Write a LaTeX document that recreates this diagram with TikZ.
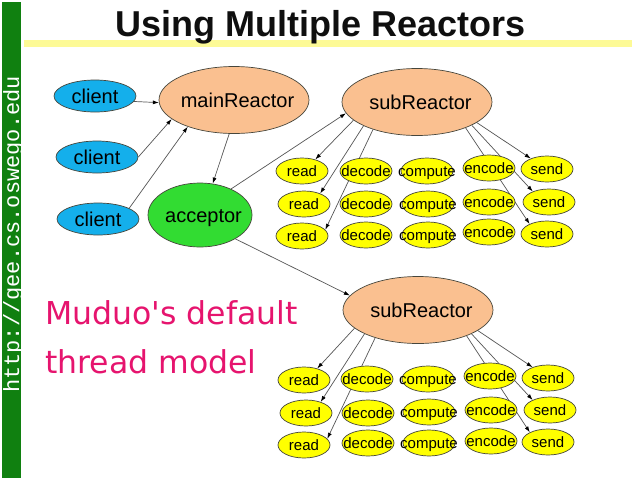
\documentclass[tikz,border=0pt]{standalone}
\usepackage{fontspec}
\setmainfont{Liberation Sans}
\newfontfamily\magfont{DejaVu Sans}[Ligatures=TeXOff]
\newfontfamily\urlfont{Liberation Mono}
\usetikzlibrary{shapes.geometric,arrows.meta}
\pgfdeclarelayer{bg}
\pgfdeclarelayer{paper}
\pgfsetlayers{paper,bg,main}
\definecolor{barGreen}{RGB}{16,128,16}
\definecolor{bandYellow}{RGB}{253,250,150}
\definecolor{clientBlue}{RGB}{20,175,235}
\definecolor{peach}{RGB}{250,192,144}
\definecolor{accGreen}{RGB}{50,220,50}
\definecolor{nodeYellow}{RGB}{255,255,0}
\definecolor{edgeGray}{RGB}{70,70,60}
\definecolor{lineGray}{RGB}{85,85,85}
\definecolor{magText}{RGB}{230,20,110}
\newcommand{\mb}[1]{\makebox[0pt]{#1}}
\newcommand{\mbs}[1]{\makebox[0pt]{\kern7pt #1}}
\tikzset{
  basenode/.style={ellipse, draw=edgeGray, line width=0.7pt, inner sep=0pt, text=black},
  clnode/.style={basenode, fill=clientBlue, minimum width=82pt, minimum height=32pt,
    font=\fontsize{20}{24}\selectfont, text height=14.3pt, text depth=0pt},
  bignode/.style={basenode, fill=peach, minimum width=150pt, minimum height=67pt,
    font=\fontsize{20}{24}\selectfont, text height=14.3pt, text depth=0pt},
  accnode/.style={basenode, fill=accGreen, minimum width=104pt, minimum height=64pt,
    font=\fontsize{20}{24}\selectfont, text height=14.3pt, text depth=0pt},
  smnode/.style={basenode, fill=nodeYellow, minimum width=52pt, minimum height=26pt,
    font=\fontsize{15}{18}\selectfont, text height=10.7pt, text depth=0pt},
  arr/.style={draw=lineGray, line width=0.7pt, -{Latex[length=6pt,width=4pt,color=black]}},
  plain/.style={inner sep=0pt, anchor=base west}
}
\begin{document}
\begin{tikzpicture}[x=1pt,y=-1pt]
\useasboundingbox (0,0) rectangle (634,480);
\begin{pgfonlayer}{paper}
\fill[white] (0,0) rectangle (634,480);
\end{pgfonlayer}
\fill[barGreen] (2,2) rectangle (21,478);
\fill[bandYellow] (24,40) rectangle (632,47);
\node[plain, font=\bfseries\fontsize{36}{40}\selectfont, text={rgb,255:red,15;green,15;blue,15}] (title) at (115,36) {Using Multiple Reactors};
\node[plain, rotate=90, text=white, font=\urlfont\fontsize{22}{24}\selectfont] (url) at (19,393) {http://gee.cs.oswego.edu};
\node[plain, text=magText, font=\magfont\fontsize{31.5}{36}\selectfont] (m1) at (45,324) {Muduo's default};
\node[plain, text=magText, font=\magfont\fontsize{31.5}{36}\selectfont] (m2) at (45,373) {thread model};

\node[clnode] (c1) at (95,96) {\mb{client}};
\node[clnode] (c2) at (97,157) {\mb{client}};
\node[clnode] (c3) at (98,219) {\mb{client}};
\node[bignode] (main) at (234,100) {\mbs{mainReactor}};
\node[accnode] (acc) at (200,215) {\mbs{acceptor}};
\node[bignode] (s1) at (417,102) {\mbs{subReactor}};
\node[bignode] (s2) at (418,310) {\mbs{subReactor}};

% first group
\node[smnode] (r11) at (302,171) {\mb{read}};
\node[smnode] (r12) at (304,204) {\mb{read}};
\node[smnode] (r13) at (302,236) {\mb{read}};
\node[smnode] (d11) at (366,171) {\mb{decode}};
\node[smnode] (d12) at (366,204) {\mb{decode}};
\node[smnode] (d13) at (366,235) {\mb{decode}};
\node[smnode] (p11) at (427,171) {\mb{compute}};
\node[smnode] (p12) at (428,204) {\mb{compute}};
\node[smnode] (p13) at (428,235) {\mb{compute}};
\node[smnode] (e11) at (489,168) {\mb{encode}};
\node[smnode] (e12) at (489,202) {\mb{encode}};
\node[smnode] (e13) at (489,232) {\mb{encode}};
\node[smnode] (n11) at (547,169) {\mb{send}};
\node[smnode] (n12) at (549,202) {\mb{send}};
\node[smnode] (n13) at (547,234) {\mb{send}};
% second group
\node[smnode] (r21) at (304,380) {\mb{read}};
\node[smnode] (r22) at (306,413) {\mb{read}};
\node[smnode] (r23) at (304,445) {\mb{read}};
\node[smnode] (d21) at (367,379) {\mb{decode}};
\node[smnode] (d22) at (368,413) {\mb{decode}};
\node[smnode] (d23) at (368,443) {\mb{decode}};
\node[smnode] (p21) at (428,379) {\mb{compute}};
\node[smnode] (p22) at (429,412) {\mb{compute}};
\node[smnode] (p23) at (429,443) {\mb{compute}};
\node[smnode] (e21) at (490,376) {\mb{encode}};
\node[smnode] (e22) at (491,410) {\mb{encode}};
\node[smnode] (e23) at (491,441) {\mb{encode}};
\node[smnode] (n21) at (548,378) {\mb{send}};
\node[smnode] (n22) at (550,410) {\mb{send}};
\node[smnode] (n23) at (548,442) {\mb{send}};

\begin{pgfonlayer}{bg}
\draw[arr] (c1.352) -- (main.182);
\draw[arr] (c2.east) -- (main.197);
\draw[arr] (c3.19) -- (main.210);
\draw[arr] (main.262) -- (acc.68);
\draw[arr] (acc.40) -- (s1.189);
\draw[arr] (acc.326) -- (s2.168);
\draw[arr] (s1.196) -- (r11.41);
\draw[arr] (s1.204) -- (r12.33);
\draw[arr] (s1.212) -- (r13.15);
\draw[arr] (s1.341) -- (n11.147);
\draw[arr] (s1.337) -- (n12.147);
\draw[arr] (s1.332) -- (n13.150);
\draw[arr] (s2.196) -- (r21.41);
\draw[arr] (s2.204) -- (r22.37);
\draw[arr] (s2.213) -- (r23.15);
\draw[arr] (s2.341) -- (n21.145);
\draw[arr] (s2.336) -- (n22.150);
\draw[arr] (s2.332) -- (n23.152);
\end{pgfonlayer}
\end{tikzpicture}
\end{document}
